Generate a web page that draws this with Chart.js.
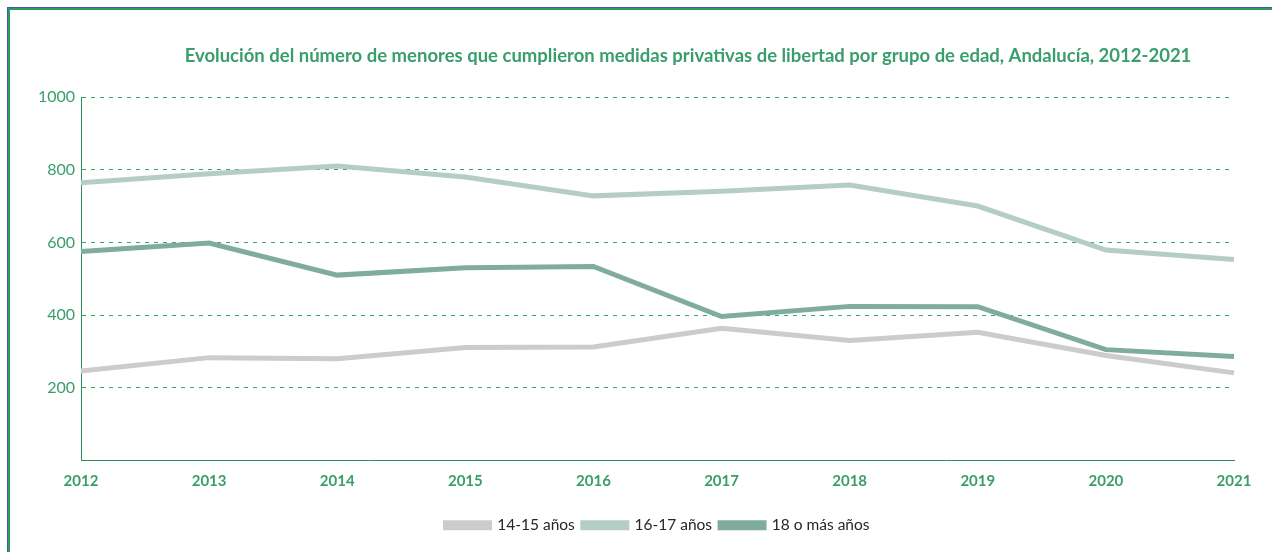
<!DOCTYPE html>
<html>
<head>
<meta charset="utf-8">
<script src="https://cdn.jsdelivr.net/npm/chart.js@4.4.1/dist/chart.umd.min.js"></script>
<style>
  html, body { margin: 0; padding: 0; background: #fff; overflow: hidden; }
  #marco { position: absolute; left: 7px; top: 7px; width: 1400px; height: 700px; border: 1px solid #3d5ba9; }
  #marco div { width: 100%; height: 100%; border: 2px solid #2f9a5f; box-sizing: border-box; }
  #lienzo { position: absolute; left: 0; top: 0; width: 1272px; height: 552px; }
</style>
</head>
<body>
<div id="marco"><div></div></div>
<div id="lienzo"><canvas id="grafica"></canvas></div>
<script>
// Datos: menores con medidas privativas de libertad por grupo de edad
var anios = ['2012', '2013', '2014', '2015', '2016', '2017', '2018', '2019', '2020', '2021'];
var edad14_15 = [246, 283, 280, 311, 312, 364, 330, 353, 289, 241];
var edad16_17 = [764, 789, 810, 780, 728, 741, 758, 700, 579, 553];
var edad18mas = [575, 598, 510, 530, 534, 396, 424, 423, 305, 286];
var ticksY = [200, 400, 600, 800, 1000];

var titulo = 'Evolución del número de menores que cumplieron medidas privativas de libertad por grupo de edad, Andalucía, 2012-2021';
var verde = '#3a9d6c';
var fuente = 'Lato, "Open Sans", sans-serif';

function serie(nombre, datos, color) {
    return {
        label: nombre,
        data: datos,
        borderColor: color,
        backgroundColor: color,
        borderWidth: 5,
        pointRadius: 0,
        pointHoverRadius: 0,
        tension: 0,
        borderJoinStyle: 'miter'
    };
}

// Titulo dibujado a mano (centrado algo a la derecha del area)
var pluginTitulo = {
    id: 'titulo',
    afterDraw: function (chart) {
        var c = chart.ctx;
        c.save();
        c.font = 'bold 18.5px ' + fuente;
        c.fillStyle = verde;
        c.textAlign = 'center';
        c.textBaseline = 'middle';
        c.fillText(titulo, 688, 56);
        c.restore();
    }
};

var ctx = document.getElementById('grafica');
new Chart(ctx, {
    type: 'line',
    data: {
        labels: anios,
        datasets: [
            serie('14-15 años', edad14_15, '#cccccc'),
            serie('16-17 años', edad16_17, '#b5cdc7'),
            serie('18 o más años', edad18mas, '#80ac9f')
        ]
    },
    options: {
        responsive: true,
        maintainAspectRatio: false,
        animation: false,
        layout: { padding: { top: 97, left: 0, right: 38, bottom: 9 } },
        plugins: {
            title: { display: false },
            tooltip: { enabled: false },
            legend: {
                position: 'bottom',
                fullSize: false,
                labels: {
                    boxWidth: 44,
                    boxHeight: 5,
                    padding: 8,
                    color: '#262626',
                    font: { family: fuente, size: 15.5 }
                }
            }
        },
        scales: {
            x: {
                offset: false,
                grid: { display: false, drawTicks: false },
                border: { display: true, color: '#2f8f5c', width: 1 },
                ticks: {
                    color: verde,
                    padding: 12,
                    maxRotation: 0,
                    autoSkip: false,
                    font: { family: fuente, size: 15, weight: 'bold' }
                },
                afterFit: function (s) { s.height = 49; }
            },
            y: {
                min: 0,
                max: 1000,
                afterBuildTicks: function (s) {
                    s.ticks = [0].concat(ticksY).map(function (v) { return { value: v }; });
                },
                grid: {
                    drawTicks: false,
                    color: function (c) { return c.tick && c.tick.value === 0 ? 'rgba(0,0,0,0)' : '#34a86c'; },
                    lineWidth: 1
                },
                border: { display: true, color: '#2f8f5c', width: 1, dash: [4, 5] },
                ticks: {
                    color: verde,
                    padding: 6,
                    font: { family: fuente, size: 16 },
                    callback: function (v) { return v === 0 ? '' : v; }
                },
                afterFit: function (s) { s.width = 81; }
            }
        }
    },
    plugins: [pluginTitulo]
});
</script>
</body>
</html>
